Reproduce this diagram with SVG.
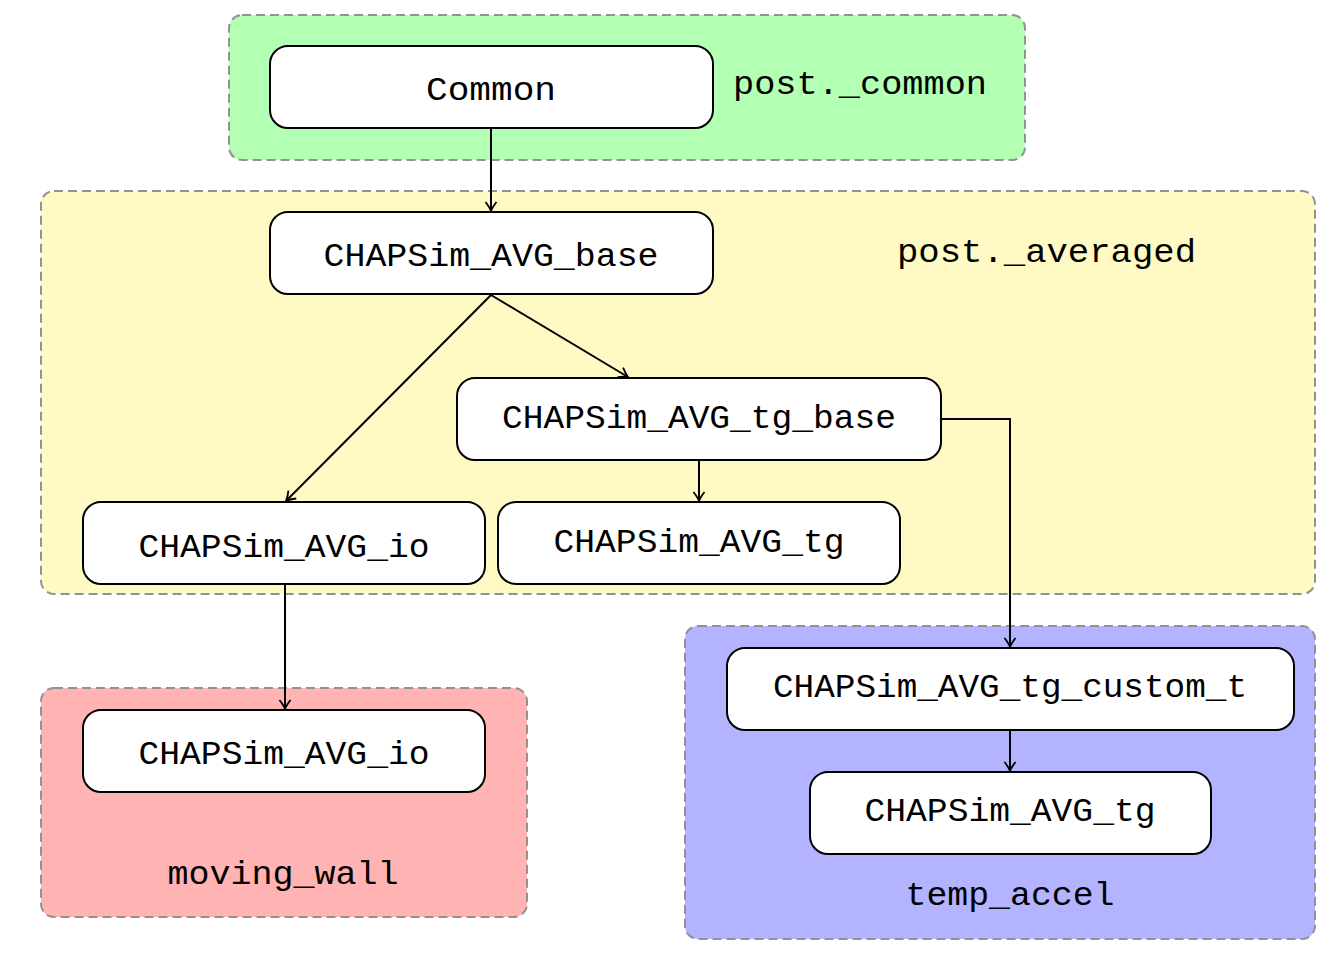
<svg xmlns="http://www.w3.org/2000/svg" width="1330" height="953" viewBox="0 0 1330 953">
<defs>
<style>
.grp{stroke:#929292;stroke-width:2;stroke-dasharray:9,5}
.node rect{fill:#ffffff;stroke:#000000;stroke-width:2}
.t{font-family:"Liberation Mono","DejaVu Sans Mono",monospace;font-size:34px;fill:#000000}
.c{text-anchor:middle}
.edge{fill:none;stroke:#000000;stroke-width:2}
</style>
<marker id="arr" viewBox="-10 -7 12 14" refX="0" refY="0" markerWidth="12" markerHeight="14" markerUnits="userSpaceOnUse" orient="auto">
<path d="M -9 -5.5 Q -3.5 -1.3 0 0 Q -3.5 1.3 -9 5.5" fill="none" stroke="#000000" stroke-width="1.8"/>
</marker>
</defs>
<rect width="1330" height="953" fill="#ffffff"/>

<g id="group-post-common">
<rect class="grp" x="229" y="15" width="796" height="145" rx="13" fill="#b3ffb3"/>
<text class="t" x="733" y="94" textLength="254" lengthAdjust="spacingAndGlyphs">post._common</text>
</g>
<g id="group-post-averaged">
<rect class="grp" x="41" y="191" width="1274" height="403" rx="13" fill="#fff9c4"/>
<text class="t" x="897" y="262" textLength="299" lengthAdjust="spacingAndGlyphs">post._averaged</text>
</g>
<g id="group-moving-wall">
<rect class="grp" x="41" y="688" width="486" height="229" rx="13" fill="#ffb3b3"/>
<text class="t c" x="283" y="884" textLength="231" lengthAdjust="spacingAndGlyphs">moving_wall</text>
</g>
<g id="group-temp-accel">
<rect class="grp" x="685" y="626" width="630" height="313" rx="13" fill="#b3b3ff"/>
<text class="t c" x="1010" y="905" textLength="209" lengthAdjust="spacingAndGlyphs">temp_accel</text>
</g>

<g id="connectors">
<path class="edge" d="M 491 129 L 491 211" marker-end="url(#arr)"/>
<path class="edge" d="M 491 295 L 628 377" marker-end="url(#arr)"/>
<path class="edge" d="M 491 295 L 286 501" marker-end="url(#arr)"/>
<path class="edge" d="M 699 461 L 699 501" marker-end="url(#arr)"/>
<path class="edge" d="M 942 419 L 1010 419 L 1010 647" marker-end="url(#arr)"/>
<path class="edge" d="M 285 585 L 285 709" marker-end="url(#arr)"/>
<path class="edge" d="M 1010 731 L 1010 771" marker-end="url(#arr)"/>
</g>

<g id="node-common" class="node">
<rect x="270" y="46" width="443" height="82" rx="18"/>
<text class="t c" x="491" y="100" textLength="130" lengthAdjust="spacingAndGlyphs">Common</text>
</g>
<g id="node-avg-base" class="node">
<rect x="270" y="212" width="443" height="82" rx="18"/>
<text class="t c" x="491" y="266" textLength="335" lengthAdjust="spacingAndGlyphs">CHAPSim_AVG_base</text>
</g>
<g id="node-avg-tg-base" class="node">
<rect x="457" y="378" width="484" height="82" rx="18"/>
<text class="t c" x="699" y="428" textLength="394" lengthAdjust="spacingAndGlyphs">CHAPSim_AVG_tg_base</text>
</g>
<g id="node-avg-io" class="node">
<rect x="83" y="502" width="402" height="82" rx="18"/>
<text class="t c" x="284" y="557" textLength="291" lengthAdjust="spacingAndGlyphs">CHAPSim_AVG_io</text>
</g>
<g id="node-avg-tg" class="node">
<rect x="498" y="502" width="402" height="82" rx="18"/>
<text class="t c" x="699" y="552" textLength="291" lengthAdjust="spacingAndGlyphs">CHAPSim_AVG_tg</text>
</g>
<g id="node-mw-avg-io" class="node">
<rect x="83" y="710" width="402" height="82" rx="18"/>
<text class="t c" x="284" y="764" textLength="291" lengthAdjust="spacingAndGlyphs">CHAPSim_AVG_io</text>
</g>
<g id="node-ta-custom-t" class="node">
<rect x="727" y="648" width="567" height="82" rx="18"/>
<text class="t c" x="1010" y="697" textLength="474" lengthAdjust="spacingAndGlyphs">CHAPSim_AVG_tg_custom_t</text>
</g>
<g id="node-ta-avg-tg" class="node">
<rect x="810" y="772" width="401" height="82" rx="18"/>
<text class="t c" x="1010" y="821" textLength="291" lengthAdjust="spacingAndGlyphs">CHAPSim_AVG_tg</text>
</g>
</svg>
